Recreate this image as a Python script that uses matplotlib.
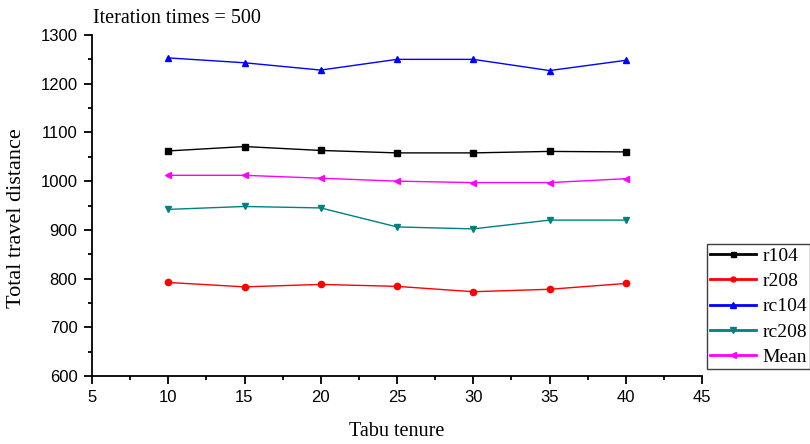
import matplotlib
matplotlib.use('Agg')
import matplotlib.pyplot as plt
from matplotlib.ticker import MultipleLocator

# tabu tenure values on the x axis
tenure = [10, 15, 20, 25, 30, 35, 40]

r104 = [1062, 1071, 1063, 1058, 1058, 1061, 1060]
r208 = [792, 783, 788, 784, 773, 778, 790]
rc104 = [1253, 1243, 1228, 1250, 1250, 1227, 1248]
rc208 = [942, 948, 945, 906, 902, 920, 920]
mean = [1012, 1012, 1006, 1000, 997, 997, 1005]

series_names = ['r104', 'r208', 'rc104', 'rc208', 'Mean']

serif = ['Liberation Serif', 'DejaVu Serif']
sans = ['Liberation Sans', 'DejaVu Sans']

fig = plt.figure(figsize=(8.1, 4.44), dpi=100)
ax = fig.add_axes([92 / 810, 1 - 376 / 444, 610 / 810, 341 / 444])

ax.plot(tenure, r104, color='black', marker='s', ms=4.5, lw=1.0, label=series_names[0])
ax.plot(tenure, r208, color='#ff0000', marker='o', ms=4.5, lw=1.0, label=series_names[1])
ax.plot(tenure, rc104, color='#0000ff', marker='^', ms=5, lw=1.0, label=series_names[2])
ax.plot(tenure, rc208, color='#008080', marker='v', ms=5, lw=1.0, label=series_names[3])
ax.plot(tenure, mean, color='#ff00ff', marker='<', ms=5, lw=1.0, label=series_names[4])

ax.set_xlim(5, 45)
ax.set_ylim(600, 1300)
ax.xaxis.set_major_locator(MultipleLocator(5))
ax.xaxis.set_minor_locator(MultipleLocator(2.5))
ax.yaxis.set_major_locator(MultipleLocator(100))
ax.yaxis.set_minor_locator(MultipleLocator(50))

ax.spines['top'].set_visible(False)
ax.spines['right'].set_visible(False)
for s in ['left', 'bottom']:
    ax.spines[s].set_linewidth(1.3)

ax.tick_params(which='major', direction='out', length=5.5, width=1.3)
ax.tick_params(which='minor', direction='out', length=3.2, width=1.3)
ax.tick_params(axis='x', which='major', pad=4.5)
ax.tick_params(axis='y', which='major', pad=5)
for lab in ax.get_xticklabels() + ax.get_yticklabels():
    lab.set_fontfamily(sans)
    lab.set_fontsize(12)

ax.set_xlabel('Tabu tenure', fontfamily=serif, fontsize=14.5)
ax.set_ylabel('Total travel distance', fontfamily=serif, fontsize=16)
ax.xaxis.set_label_coords(0.5, -0.135)
ax.yaxis.set_label_coords(-0.108, 0.463)

fig.text(93 / 810, 1 - 23 / 444, 'Iteration times = 500', fontfamily=serif,
         fontsize=14.5, ha='left', va='baseline')

leg = ax.legend(loc='upper left', bbox_to_anchor=(707 / 810, 1 - 244 / 444),
                bbox_transform=fig.transFigure, borderaxespad=0, fancybox=False,
                edgecolor='#404040', framealpha=1, prop={'family': serif, 'size': 14},
                handlelength=2.35, handletextpad=0.35, labelspacing=0.4, borderpad=0.15,
                markerscale=0.8)
leg.get_frame().set_linewidth(1.0)
for line in leg.get_lines():
    line.set_linewidth(2.0)

fig.savefig('out.png', dpi=100)
